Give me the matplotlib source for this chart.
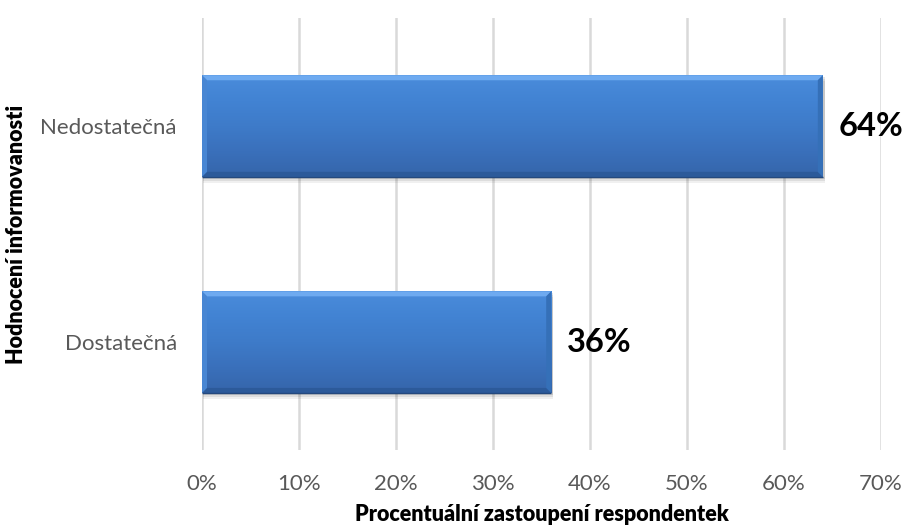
import numpy as np
import matplotlib
matplotlib.use("Agg")
import matplotlib.pyplot as plt
from matplotlib.colors import LinearSegmentedColormap
from matplotlib.patches import Polygon, Rectangle

# Survey results: how respondents rated the information they received
categories = ["Dostatečná", "Nedostatečná"]
values = [36, 64]
x_ticks = [0, 10, 20, 30, 40, 50, 60, 70]
x_tick_labels = [f"{t}%" for t in x_ticks]

plt.rcParams["font.family"] = ["Lato", "DejaVu Sans"]

fig = plt.figure(figsize=(9.05, 5.29), dpi=100)
ax = fig.add_axes([0.2232, 0.149, 0.7503, 0.817])

ypos = np.arange(len(categories))
bar_h = 0.47
bars = ax.barh(ypos, values, height=bar_h, color="none", edgecolor="none", zorder=3)

ax.set_xlim(0, 70)
ax.set_ylim(-0.5, 1.5)

# pixel -> data scale for bevel widths
fig.canvas.draw()
bb = ax.get_window_extent()
px_x = 70 / bb.width
px_y = 2.0 / bb.height

body = LinearSegmentedColormap.from_list(
    "body", ["#3565aa", "#3a70bb", "#3e7bc9", "#4283d3", "#4a8cdb"])
grad = np.linspace(0, 1, 256).reshape(-1, 1)

for p in bars.patches:
    x0, y0 = p.get_x(), p.get_y()
    w, h = p.get_width(), p.get_height()
    x1, y1 = x0 + w, y0 + h
    # soft drop shadow
    for k, a in zip([6, 4, 2], [0.06, 0.08, 0.10]):
        ax.add_patch(Rectangle((x0 + 1 * px_x, y0 - k * px_y), w + 1 * px_x, h,
                               facecolor="#000000", alpha=a, edgecolor="none",
                               zorder=2))
    im = ax.imshow(grad, extent=(x0, x1, y0, y1), origin="lower", cmap=body,
                   aspect="auto", zorder=3)
    im.set_clip_path(p)
    bx, by = 5 * px_x, 5 * px_y
    # bevel faces
    top = Polygon([(x0, y1), (x1, y1), (x1 - bx, y1 - by), (x0 + bx, y1 - by)],
                  closed=True, facecolor="#6eaaf0", edgecolor="none", zorder=4)
    bot = Polygon([(x0, y0), (x1, y0), (x1 - bx, y0 + by), (x0 + bx, y0 + by)],
                  closed=True, facecolor="#2c5a9a", edgecolor="none", zorder=4)
    lft = Polygon([(x0, y0), (x0, y1), (x0 + bx, y1 - by), (x0 + bx, y0 + by)],
                  closed=True, facecolor="#4886d3", edgecolor="none", zorder=4)
    rgt = Polygon([(x1, y0), (x1, y1), (x1 - bx, y1 - by), (x1 - bx, y0 + by)],
                  closed=True, facecolor="#3570b8", edgecolor="none", zorder=4)
    for poly in (top, bot, lft, rgt):
        ax.add_patch(poly)
    ax.plot([x0, x1], [y0, y0], color="#24497e", lw=1.0, zorder=5,
            solid_capstyle="butt")
    ax.text(x1 + 1.6, y0 + h / 2, f"{int(w)}%", ha="left", va="center",
            fontsize=23.5, fontweight="bold", color="#000000", zorder=6)

ax.set_xticks(x_ticks)
ax.set_xticklabels(x_tick_labels)
ax.set_yticks(ypos)
ax.set_yticklabels(categories)
ax.tick_params(axis="both", length=0, labelsize=16, colors="#595959")
ax.tick_params(axis="x", pad=17)
ax.tick_params(axis="y", pad=18)

ax.grid(axis="x", color="#d9d9d9", lw=1.8, zorder=0)
ax.set_axisbelow(True)
for s in ax.spines.values():
    s.set_visible(False)

ax.set_xlabel("Procentuální zastoupení respondentek", fontsize=15.5,
              fontweight="heavy", color="#000000", labelpad=7)
ax.set_ylabel("Hodnocení informovanosti", fontsize=15.5, fontweight="heavy",
              color="#000000", labelpad=10)

fig.savefig("out.png", dpi=100, facecolor="white")
